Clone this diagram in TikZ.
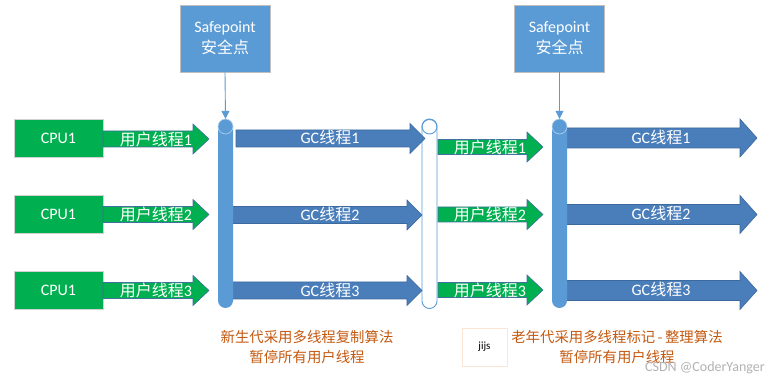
\documentclass[tikz,border=0pt]{standalone}
\usepackage{fontspec}
\setmainfont{Carlito}
\newfontfamily\cjk{Noto Sans CJK SC}
\usetikzlibrary{arrows.meta}
\definecolor{cpugreen}{HTML}{00B050}
\definecolor{arrowedge}{HTML}{41719C}
\definecolor{pillarblue}{HTML}{5B9BD5}
\definecolor{gcblue}{HTML}{4A7EBB}
\definecolor{gcedge}{HTML}{3C6A9E}
\definecolor{noteorange}{HTML}{C55A11}
\definecolor{jboxedge}{HTML}{FBE5D6}
\tikzset{
  cpubox/.style={fill=cpugreen, draw=black!18, line width=0.8pt, minimum width=89pt, minimum height=38pt, inner sep=0pt, text=white, font=\fontsize{16}{18}\selectfont},
  sptbox/.style={fill=pillarblue, draw=black!25, line width=0.8pt, minimum width=90pt, minimum height=67pt, inner sep=0pt, text=white, align=center, font=\fontsize{16}{21}\selectfont},
  pillar/.style={fill=pillarblue, draw=none, rounded corners=7.5pt, minimum width=15pt, minimum height=189pt, inner sep=0pt},
  wpillar/.style={fill=white, draw=pillarblue, line width=0.9pt, rounded corners=7.5pt, minimum width=15pt, minimum height=189pt, inner sep=0pt},
  capring/.style={draw=white!55!pillarblue, line width=0.6pt},
  wcapring/.style={draw=pillarblue, line width=0.9pt},
  lbl/.style={text=white, inner sep=0pt, font=\fontsize{16}{18}\selectfont},
  greenarrow/.style={fill=cpugreen, draw=arrowedge, line width=0.6pt},
  gcarrow/.style={fill=gcblue, draw=gcedge, line width=0.6pt},
  sparrow/.style={draw=pillarblue, line width=0.9pt, -{Triangle[width=8pt,length=8pt]}},
  note/.style={text=noteorange, align=center, inner sep=0pt, font=\cjk\fontsize{14.4}{20}\selectfont},
  jbox/.style={draw=jboxedge, line width=0.8pt, minimum width=45pt, minimum height=38pt, inner sep=0pt, font=\fontsize{11}{13}\selectfont},
  wmark/.style={text=black!30, inner sep=0pt, font=\fontsize{14}{16}\selectfont}
}
% style, x1, xhead, xtip, ycenter, shaft half, head half
\newcommand{\fatarrow}[7]{%
  \path[#1] (#2,#5-#6) -- (#3,#5-#6) -- (#3,#5-#7) -- (#4,#5) -- (#3,#5+#7) -- (#3,#5+#6) -- (#2,#5+#6) -- cycle;}
\begin{document}
\begin{tikzpicture}[x=1pt,y=-1pt]
\useasboundingbox (0,0) rectangle (779,379);
\fill[white] (0,0) rectangle (779,379);

% CPU boxes
\node[cpubox] (cpu1) at (58.5,138) {CPU1};
\node[cpubox] (cpu2) at (58.5,214.5) {CPU1};
\node[cpubox] (cpu3) at (58.5,290.5) {CPU1};

% left green arrows
\fatarrow{greenarrow}{103}{193}{209}{139}{8}{15}
\fatarrow{greenarrow}{103}{193}{209}{214.5}{8}{15}
\fatarrow{greenarrow}{103}{193}{209}{290.5}{8}{15}
\node[lbl] (u1) at (156,139) {{\cjk 用户线程}1};
\node[lbl] (u2) at (156,214.5) {{\cjk 用户线程}2};
\node[lbl] (u3) at (156,290.5) {{\cjk 用户线程}3};

% middle white pillar
\node[wpillar] (p2) at (429.5,214) {};
\draw[wcapring] (429.5,126.5) circle (7.5pt);

% left GC arrows
\fatarrow{gcarrow}{236}{410}{425}{138.5}{8.5}{15}
\fatarrow{gcarrow}{230}{407}{422}{215}{8.5}{15}
\fatarrow{gcarrow}{230}{407}{422}{290.5}{8.5}{15}
\node[lbl] (gc1) at (330,137) {GC{\cjk 线程}1};
\node[lbl] (gc2) at (330,214) {GC{\cjk 线程}2};
\node[lbl] (gc3) at (330,290) {GC{\cjk 线程}3};

% pillar 1 and safepoint 1
\node[pillar] (p1) at (225.5,213.5) {};
\draw[capring] (225.5,126.5) circle (7.5pt);
\node[sptbox] (sp1) at (225,38.5) {Safepoint\\{\cjk 安全点}};
\draw[sparrow] (sp1.south) -- (p1.north);

% middle green arrows
\fatarrow{greenarrow}{438}{527}{543}{147}{7.5}{15}
\fatarrow{greenarrow}{438}{527}{543}{214.5}{7.5}{15}
\fatarrow{greenarrow}{438}{527}{543}{290}{7.5}{15}
\node[lbl] (m1) at (490,147) {{\cjk 用户线程}1};
\node[lbl] (m2) at (490,214.5) {{\cjk 用户线程}2};
\node[lbl] (m3) at (490,290) {{\cjk 用户线程}3};

% right GC arrows
\fatarrow{gcarrow}{563}{740}{757}{138}{10}{19}
\fatarrow{gcarrow}{563}{740}{757}{214.5}{10}{19}
\fatarrow{gcarrow}{563}{740}{757}{290.5}{10}{19}
\node[lbl] (r1) at (661,137) {GC{\cjk 线程}1};
\node[lbl] (r2) at (661,213.5) {GC{\cjk 线程}2};
\node[lbl] (r3) at (661,289.5) {GC{\cjk 线程}3};

% pillar 3 and safepoint 2
\node[pillar] (p3) at (559.5,213.5) {};
\draw[capring] (559.5,126.5) circle (7.5pt);
\node[sptbox] (sp2) at (559.5,38.5) {Safepoint\\{\cjk 安全点}};
\draw[sparrow] (sp2.south) -- (p3.north);

% notes
\node[note] (n1) at (307,347) {新生代采用多线程复制算法\\暂停所有用户线程};
\node[note] (n2) at (617,347) {老年代采用多线程标记\,-\,整理算法\\暂停所有用户线程};
\node[jbox] (jj) at (484.5,347) {jijs};
\node[wmark] (wm) at (705,368) {CSDN @CoderYanger};
\end{tikzpicture}
\end{document}
